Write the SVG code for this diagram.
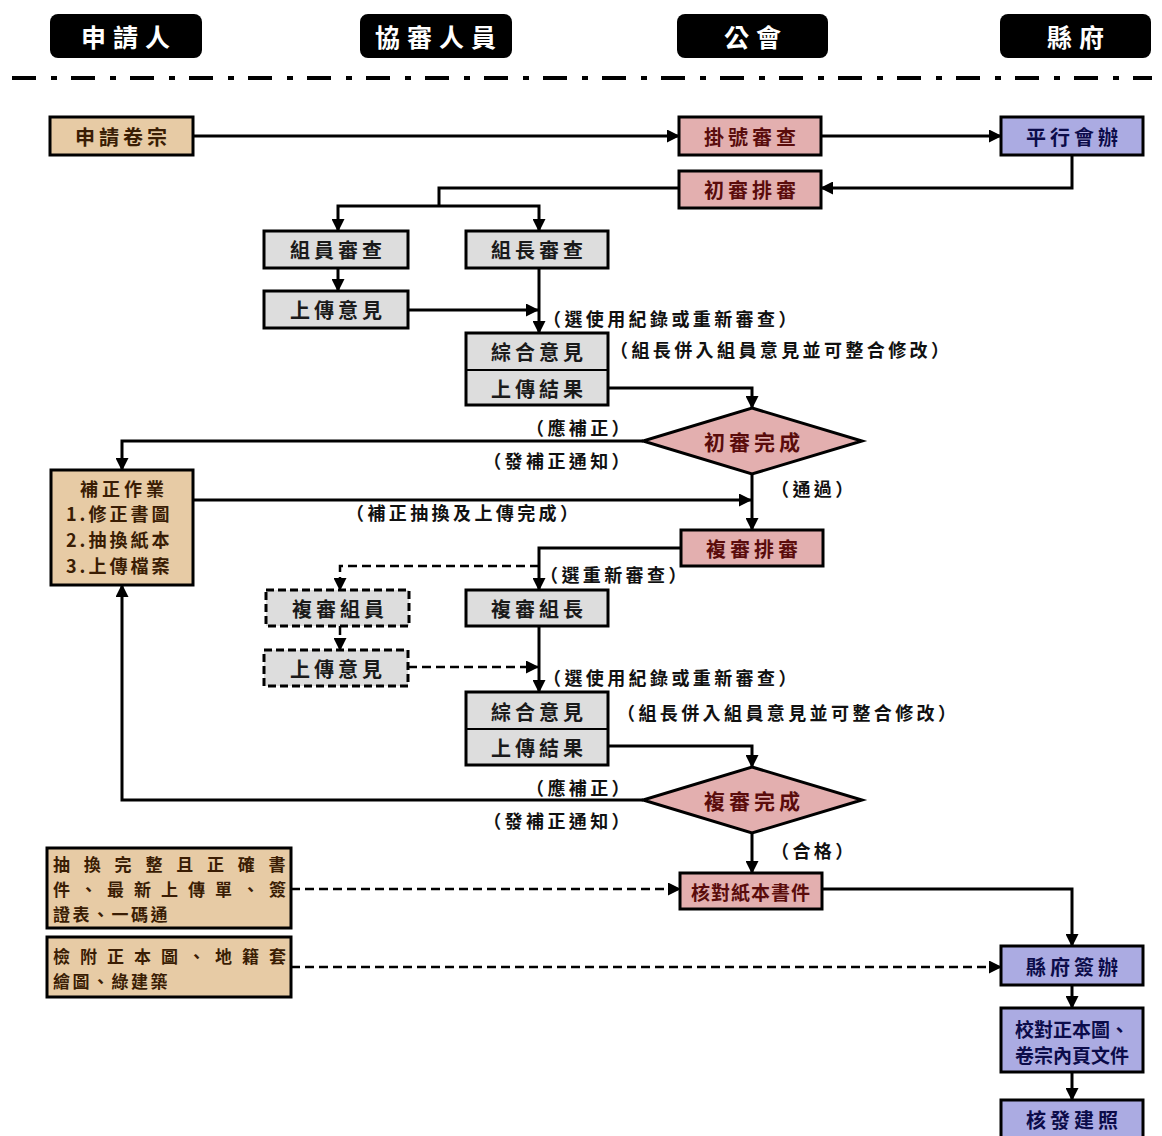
<svg xmlns="http://www.w3.org/2000/svg" width="1162" height="1136" viewBox="0 0 1162 1136">
<defs>
<marker id="arr" markerUnits="userSpaceOnUse" markerWidth="13" markerHeight="13" refX="12" refY="6.5" orient="auto">
<path d="M0,0 L13,6.5 L0,13 z" fill="#000"/>
</marker>
<style>
text{font-family:"Noto Sans CJK TC","Noto Sans CJK SC",sans-serif;font-weight:700;dominant-baseline:central}
.hd rect{fill:#000}
.hd text{fill:#fff;font-size:25px;text-anchor:middle;letter-spacing:7px}
.box{stroke:#000;stroke-width:3}
.tan{fill:#E7CBA5}
.pink{fill:#E3AFAF}
.lav{fill:#ABABE2}
.gray{fill:#DDDDDD}
.dash{stroke-dasharray:8 4}
.t{font-size:20px;text-anchor:middle;letter-spacing:4px}
.tt{fill:#3a1d04}
.tp{fill:#5a0c0c}
.tl{fill:#0c0c4a}
.tg{fill:#1a1a1a}
.lb{font-size:18px;fill:#111;letter-spacing:3.4px}
.end{text-anchor:end}
.c path{fill:none;stroke:#000;stroke-width:3;marker-end:url(#arr)}
.c path.nm{marker-end:none}
.c path.d{stroke-dasharray:9 5;stroke-width:2.5}
.bl{font-size:17px;fill:#3a1d04}
.fx{font-size:18px;fill:#3a1d04;letter-spacing:3px}
</style>
</defs>
<rect width="1162" height="1136" fill="#fff"/>

<g id="headers" class="hd">
<g id="h1"><rect x="50" y="14" width="152" height="44" rx="8"/><text x="129" y="36">申請人</text></g>
<g id="h2"><rect x="360" y="14" width="152" height="44" rx="8"/><text x="439" y="36">協審人員</text></g>
<g id="h3"><rect x="677" y="14" width="151" height="44" rx="8"/><text x="756" y="36">公會</text></g>
<g id="h4"><rect x="1000" y="14" width="151" height="44" rx="8"/><text x="1079" y="36">縣府</text></g>
</g>
<line id="divider" x1="12" y1="78" x2="1152" y2="78" stroke="#000" stroke-width="4" stroke-dasharray="24 15 6 14"/>

<g id="connectors" class="c">
<path d="M193,136 H679"/>
<path d="M821,136 H1001"/>
<path d="M1072,155 V188 H821"/>
<path class="nm" d="M679,188 H439 V206"/>
<path d="M439,206 H338 V231"/>
<path d="M439,206 H539 V231"/>
<path d="M338,268 V291"/>
<path d="M539,268 V333"/>
<path d="M408,310 H538"/>
<path d="M608,388 H752 V408"/>
<path d="M643,441 H122 V470"/>
<path d="M752,474 V530"/>
<path d="M193,500 H751"/>
<path d="M681,548 H539 V590"/>
<path class="d" d="M539,566 H340 V590"/>
<path class="d" d="M340,626 V650"/>
<path d="M539,626 V692"/>
<path class="d" d="M408,667 H538"/>
<path d="M608,746 H752 V767"/>
<path d="M643,800 H122 V585"/>
<path d="M752,833 V873"/>
<path class="d" d="M291,889 H680"/>
<path d="M822,889 H1072 V946"/>
<path class="d" d="M291,967 H1001"/>
<path d="M1072,985 V1008"/>
<path d="M1072,1072 V1100"/>
</g>

<g id="labels">
<text class="lb" x="543" y="318">（選使用紀錄或重新審查）</text>
<text class="lb" x="610" y="349">（組長併入組員意見並可整合修改）</text>
<text class="lb end" x="633" y="427">（應補正）</text>
<text class="lb end" x="633" y="460">（發補正通知）</text>
<text class="lb" x="771" y="488">（通過）</text>
<text class="lb" x="346" y="512">（補正抽換及上傳完成）</text>
<text class="lb" x="540" y="574">（選重新審查）</text>
<text class="lb" x="543" y="677">（選使用紀錄或重新審查）</text>
<text class="lb" x="617" y="712">（組長併入組員意見並可整合修改）</text>
<text class="lb end" x="633" y="787">（應補正）</text>
<text class="lb end" x="633" y="820">（發補正通知）</text>
<text class="lb" x="771" y="850">（合格）</text>
</g>

<g id="n_apply"><rect class="box tan" x="50" y="117" width="143" height="38"/><text class="t tt" x="123" y="136">申請卷宗</text></g>
<g id="n_register"><rect class="box pink" x="679" y="117" width="142" height="38"/><text class="t tp" x="752" y="136">掛號審查</text></g>
<g id="n_parallel"><rect class="box lav" x="1001" y="117" width="142" height="38"/><text class="t tl" x="1074" y="136">平行會辦</text></g>
<g id="n_sched1"><rect class="box pink" x="679" y="171" width="142" height="37"/><text class="t tp" x="752" y="189">初審排審</text></g>
<g id="n_member1"><rect class="box gray" x="264" y="231" width="144" height="37"/><text class="t tg" x="338" y="249">組員審查</text></g>
<g id="n_leader1"><rect class="box gray" x="466" y="231" width="142" height="37"/><text class="t tg" x="539" y="249">組長審查</text></g>
<g id="n_upload1"><rect class="box gray" x="264" y="291" width="144" height="37"/><text class="t tg" x="338" y="309">上傳意見</text></g>
<g id="n_merge1"><rect class="box gray" x="466" y="333" width="142" height="72"/><line x1="466" y1="370" x2="608" y2="370" stroke="#000" stroke-width="2"/><text class="t tg" x="539" y="351">綜合意見</text><text class="t tg" x="539" y="388">上傳結果</text></g>
<g id="n_done1"><polygon class="box pink" points="752,408 862,441 752,474 643,441"/><text class="t tp" x="754" y="441" style="font-size:21px">初審完成</text></g>
<g id="n_fix"><rect class="box tan" x="51" y="470" width="142" height="115"/>
<text class="fx" x="124" y="488" style="text-anchor:middle;letter-spacing:4px">補正作業</text>
<text class="fx" x="66" y="513">1.修正書圖</text>
<text class="fx" x="66" y="539">2.抽換紙本</text>
<text class="fx" x="66" y="565">3.上傳檔案</text></g>
<g id="n_sched2"><rect class="box pink" x="681" y="530" width="142" height="36"/><text class="t tp" x="754" y="548">複審排審</text></g>
<g id="n_member2"><rect class="box gray dash" x="266" y="590" width="143" height="36"/><text class="t tg" x="340" y="608">複審組員</text></g>
<g id="n_leader2"><rect class="box gray" x="466" y="590" width="142" height="36"/><text class="t tg" x="539" y="608">複審組長</text></g>
<g id="n_upload2"><rect class="box gray dash" x="264" y="650" width="144" height="36"/><text class="t tg" x="338" y="668">上傳意見</text></g>
<g id="n_merge2"><rect class="box gray" x="466" y="692" width="142" height="73"/><line x1="466" y1="729" x2="608" y2="729" stroke="#000" stroke-width="2"/><text class="t tg" x="539" y="711">綜合意見</text><text class="t tg" x="539" y="747">上傳結果</text></g>
<g id="n_done2"><polygon class="box pink" points="752,767 862,800 752,833 643,800"/><text class="t tp" x="754" y="800" style="font-size:21px">複審完成</text></g>
<g id="n_check"><rect class="box pink" x="680" y="873" width="142" height="36"/><text class="t tp" x="751" y="891" style="font-size:19px;letter-spacing:1px">核對紙本書件</text></g>
<g id="n_docs1"><rect class="box tan" x="47" y="848" width="244" height="80"/>
<text class="bl" x="53" y="863" style="letter-spacing:13.8px">抽換完整且正確書</text>
<text class="bl" x="53" y="888" style="letter-spacing:10px">件、最新上傳單、簽</text>
<text class="bl" x="53" y="913" style="letter-spacing:2.5px">證表、一碼通</text></g>
<g id="n_docs2"><rect class="box tan" x="47" y="937" width="244" height="60"/>
<text class="bl" x="53" y="955" style="letter-spacing:10px">檢附正本圖、地籍套</text>
<text class="bl" x="53" y="980" style="letter-spacing:2.5px">繪圖、綠建築</text></g>
<g id="n_sign"><rect class="box lav" x="1001" y="946" width="142" height="39"/><text class="t tl" x="1074" y="966">縣府簽辦</text></g>
<g id="n_verify"><rect class="box lav" x="1001" y="1008" width="142" height="64"/><text class="tl" x="1072" y="1028" style="font-size:19px;text-anchor:middle">校對正本圖、</text><text class="tl" x="1072" y="1054" style="font-size:19px;text-anchor:middle">卷宗內頁文件</text></g>
<g id="n_issue"><rect class="box lav" x="1001" y="1100" width="142" height="42"/><text class="t tl" x="1074" y="1119">核發建照</text></g>
</svg>
